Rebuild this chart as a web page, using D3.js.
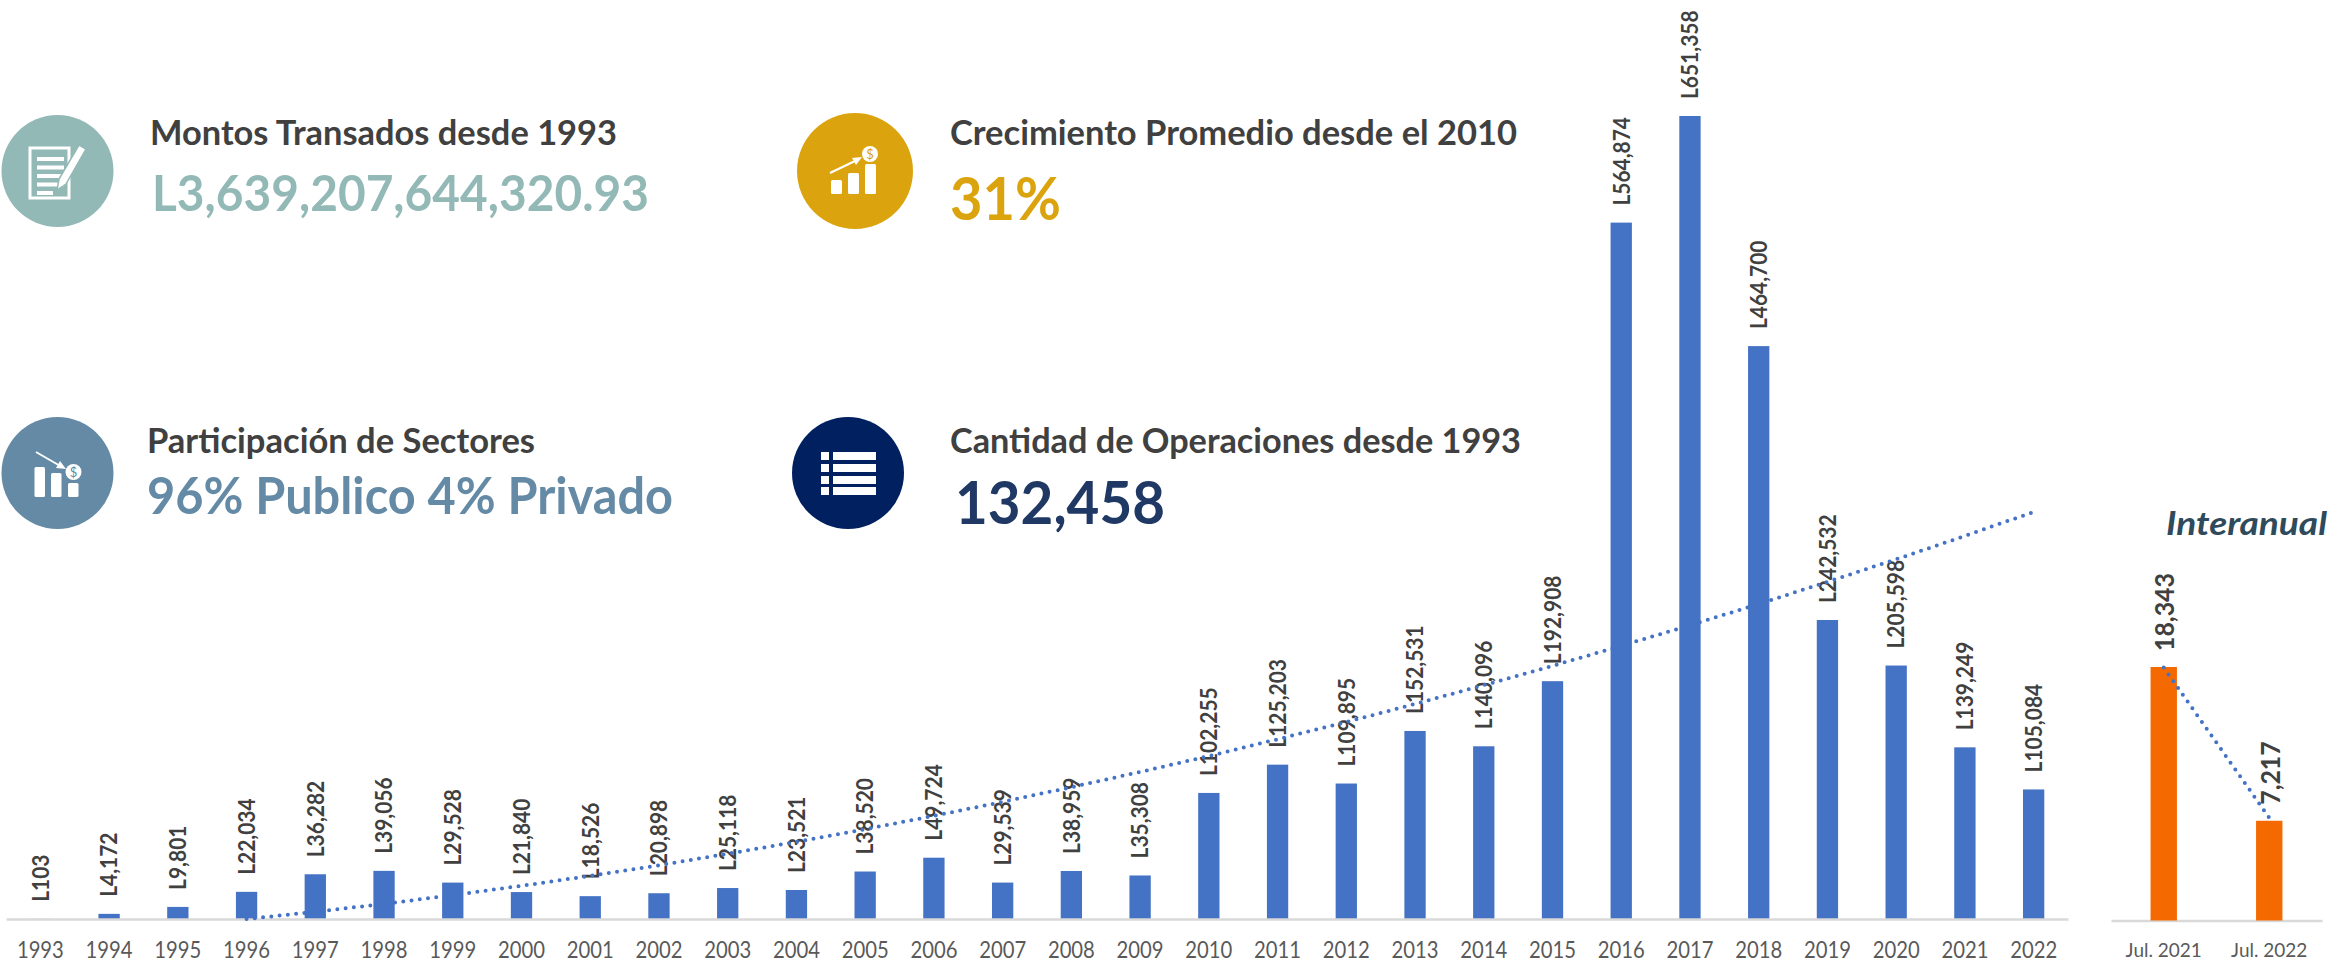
<!DOCTYPE html>
<html>
<head>
<meta charset="utf-8">
<script src="https://cdn.jsdelivr.net/npm/d3@7"></script>
<style>
  body { margin: 0; background: #fff; overflow: hidden; }
  text { font-family: Lato, "Open Sans", sans-serif; }
</style>
</head>
<body>
<div id="chart"></div>
<script>
// yearly amounts, millions of lempiras
const years = ['1993', '1994', '1995', '1996', '1997', '1998', '1999', '2000', '2001', '2002',
  '2003', '2004', '2005', '2006', '2007', '2008', '2009', '2010', '2011', '2012',
  '2013', '2014', '2015', '2016', '2017', '2018', '2019', '2020', '2021', '2022']
const amounts = [103, 4172, 9801, 22034, 36282, 39056, 29528, 21840, 18526, 20898,
  25118, 23521, 38520, 49724, 29539, 38959, 35308, 102255, 125203, 109895,
  152531, 140096, 192908, 564874, 651358, 464700, 242532, 205598, 139249, 105084]
// dotted trend, it only starts in 1996
const trend = [null, null, null, 0, 5800, 12300, 19300, 26900, 35000, 43600,
  52900, 62600, 72800, 83700, 95000, 106900, 119300, 132200, 145800, 159800,
  174400, 189700, 205300, 221600, 238300, 255500, 273500, 291800, 310700, 330200]

const months = ['Jul. 2021', 'Jul. 2022']
const monthAmounts = [18343, 7217]
const monthTrend = [18300, 7430]

const cards = [
  { title: 'Montos Transados desde 1993', value: 'L3,639,207,644,320.93', color: '#93b9b6', valueColor: '#93b9b6' },
  { title: 'Crecimiento Promedio desde el 2010', value: '31%', color: '#dba40e', valueColor: '#dba40e' },
  { title: 'Participación de Sectores', value: '96% Publico 4% Privado', color: '#648aa6', valueColor: '#648aa6' },
  { title: 'Cantidad de Operaciones desde 1993', value: '132,458', color: '#002060', valueColor: '#1f3864' }
]
// layout of each card, same order as cards
const cardLayout = [
  { cx: 57.5, cy: 171, r: 56, tx: 150, tw: 467, ty: 145, vx: 152, vw: 497, vy: 211, vs: 50 },
  { cx: 855, cy: 171, r: 58, tx: 950, tw: 567, ty: 145, vx: 950, vw: 111, vy: 220, vs: 59 },
  { cx: 57.5, cy: 473, r: 56, tx: 147, tw: 388, ty: 453, vx: 147, vw: 526, vy: 514, vs: 51 },
  { cx: 848, cy: 473, r: 56, tx: 950, tw: 571, ty: 453, vx: 955, vw: 210, vy: 524, vs: 60 }
]

const width = 2331
const height = 963
const baseline = 919
const baseline2 = 920.5

const svg = d3.select('#chart')
  .append('svg')
  .attr('width', width)
  .attr('height', height)

const xPositionScale = d3.scaleBand()
  .domain(years)
  .range([6, 2068])
  .paddingInner(0.69)
  .paddingOuter(0.345)

const yPositionScale = d3.scaleLinear()
  .domain([0, 651358])
  .range([baseline, 116])

const xPositionScale2 = d3.scaleBand()
  .domain(months)
  .range([2111, 2322])
  .paddingInner(0.75)
  .paddingOuter(0.375)

const yPositionScale2 = d3.scaleLinear()
  .domain([0, 18343])
  .range([baseline2, 667])

const fmt = d3.format(',')

// Lato is wider than the original face, squeeze it by k
function squeeze (selection, k) {
  selection
    .attr('lengthAdjust', 'spacingAndGlyphs')
    .each(function () {
      d3.select(this).attr('textLength', this.getComputedTextLength() * k)
    })
}

/* cards */
const card = svg.selectAll('.card')
  .data(cards)
  .enter()
  .append('g')
  .attr('class', 'card')

card.append('circle')
  .attr('cx', (d, i) => cardLayout[i].cx)
  .attr('cy', (d, i) => cardLayout[i].cy)
  .attr('r', (d, i) => cardLayout[i].r)
  .attr('fill', d => d.color)

card.append('text')
  .attr('x', (d, i) => cardLayout[i].tx)
  .attr('y', (d, i) => cardLayout[i].ty)
  .attr('textLength', (d, i) => cardLayout[i].tw)
  .attr('lengthAdjust', 'spacingAndGlyphs')
  .attr('font-size', 34)
  .attr('font-weight', 700)
  .attr('fill', '#404040')
  .text(d => d.title)

card.append('text')
  .attr('x', (d, i) => cardLayout[i].vx)
  .attr('y', (d, i) => cardLayout[i].vy)
  .attr('textLength', (d, i) => cardLayout[i].vw)
  .attr('lengthAdjust', 'spacingAndGlyphs')
  .attr('font-size', (d, i) => cardLayout[i].vs)
  .attr('font-weight', 700)
  .attr('fill', d => d.valueColor)
  .text(d => d.value)

/* icons */
const icons = svg.append('g').attr('fill', '#fff')

// document and pen
icons.append('rect').attr('x', 30).attr('y', 148).attr('width', 39).attr('height', 50)
  .attr('fill', 'none').attr('stroke', '#fff').attr('stroke-width', 3)
icons.selectAll('.docline')
  .data([183, 158, 168, 178, 187])
  .enter()
  .append('rect')
  .attr('class', 'docline')
  .attr('x', 37)
  .attr('y', (d, i) => 157 + i * 8.5)
  .attr('width', (d, i) => i === 4 ? 16 : 27)
  .attr('height', 4)
icons.append('path')
  .attr('d', 'M57 190 L59 179 L79 145 L86 149 L66 184 Z')
  .attr('stroke', '#93b9b6')
  .attr('stroke-width', 1.5)

// bars going down
icons.selectAll('.downbar')
  .data([[34.5, 467], [51, 473], [68, 483]])
  .enter()
  .append('rect')
  .attr('x', d => d[0])
  .attr('y', d => d[1])
  .attr('width', 10.5)
  .attr('height', d => 497 - d[1])
  .attr('rx', 1.5)
icons.append('path').attr('d', 'M36 452 L62 467').attr('stroke', '#fff').attr('stroke-width', 2)
icons.append('path').attr('d', 'M66 469 L56 468 L60 461 Z')
icons.append('circle').attr('cx', 73.5).attr('cy', 472).attr('r', 8)
icons.append('text').attr('x', 73.5).attr('y', 477).attr('text-anchor', 'middle')
  .attr('font-size', 13).attr('fill', '#648aa6').text('$')

// bars going up
icons.selectAll('.upbar')
  .data([[831, 180], [848, 173], [865, 164]])
  .enter()
  .append('rect')
  .attr('x', d => d[0])
  .attr('y', d => d[1])
  .attr('width', 11)
  .attr('height', d => 194 - d[1])
  .attr('rx', 1.5)
icons.append('path').attr('d', 'M830 173 L857 160').attr('stroke', '#fff').attr('stroke-width', 2)
icons.append('path').attr('d', 'M862 157 L856 165 L852 158 Z')
icons.append('circle').attr('cx', 870).attr('cy', 154).attr('r', 8)
icons.append('text').attr('x', 870).attr('y', 159).attr('text-anchor', 'middle')
  .attr('font-size', 13).attr('fill', '#dba40e').text('$')

// list
icons.selectAll('.listrow')
  .data([452, 464, 476, 487])
  .enter()
  .append('g')
  .attr('class', 'listrow')
  .each(function (d) {
    d3.select(this).append('rect').attr('x', 821).attr('y', d).attr('width', 8).attr('height', 8)
    d3.select(this).append('rect').attr('x', 833).attr('y', d).attr('width', 43).attr('height', 8)
  })

/* main bars */
svg.selectAll('.bar')
  .data(amounts)
  .enter()
  .append('rect')
  .attr('class', 'bar')
  .attr('x', (d, i) => xPositionScale(years[i]))
  .attr('y', d => yPositionScale(d))
  .attr('width', xPositionScale.bandwidth())
  .attr('height', d => baseline - yPositionScale(d))
  .attr('fill', '#4472c4')

/* Set up axes */
const xAxis = d3.axisBottom(xPositionScale).tickSize(0).tickPadding(23)
const axisMain = svg.append('g')
  .attr('class', 'axis x-axis')
  .attr('transform', 'translate(0,' + baseline + ')')
  .call(xAxis)

const xAxis2 = d3.axisBottom(xPositionScale2).tickSize(0).tickPadding(22)
const axisSide = svg.append('g')
  .attr('class', 'axis x-axis-2')
  .attr('transform', 'translate(0,' + baseline2 + ')')
  .call(xAxis2)

svg.selectAll('.axis path').attr('stroke', '#d9d9d9').attr('stroke-width', 2.5)
axisMain.selectAll('text').attr('font-size', 22.5).attr('fill', '#595959').attr('font-family', 'Lato').call(squeeze, 0.9)
axisSide.selectAll('text').attr('font-size', 20).attr('fill', '#595959').attr('font-family', 'Lato').call(squeeze, 0.95)

/* value labels */
svg.selectAll('.label')
  .data(amounts)
  .enter()
  .append('text')
  .attr('class', 'label')
  .attr('transform', (d, i) => {
    const x = xPositionScale(years[i]) + xPositionScale.bandwidth() / 2
    return 'translate(' + x + ',' + (yPositionScale(d) - 17) + ') rotate(-90)'
  })
  .attr('dy', '0.36em')
  .attr('font-size', 23)
  .attr('font-weight', 700)
  .attr('fill', '#404040')
  .text(d => 'L' + fmt(d))
  .call(squeeze, 0.91)

/* side chart */
svg.selectAll('.bar2')
  .data(monthAmounts)
  .enter()
  .append('rect')
  .attr('class', 'bar2')
  .attr('x', (d, i) => xPositionScale2(months[i]))
  .attr('y', d => yPositionScale2(d))
  .attr('width', xPositionScale2.bandwidth())
  .attr('height', d => baseline2 - yPositionScale2(d))
  .attr('fill', '#f46a00')

svg.selectAll('.label2')
  .data(monthAmounts)
  .enter()
  .append('text')
  .attr('class', 'label2')
  .attr('transform', (d, i) => {
    const x = xPositionScale2(months[i]) + xPositionScale2.bandwidth() / 2 + 1
    return 'translate(' + x + ',' + (yPositionScale2(d) - 16) + ') rotate(-90)'
  })
  .attr('dy', '0.36em')
  .attr('font-size', 27)
  .attr('font-weight', 700)
  .attr('fill', '#404040')
  .text(d => fmt(d))
  .call(squeeze, 0.92)

svg.append('text')
  .attr('x', 2166)
  .attr('y', 535)
  .attr('textLength', 161)
  .attr('lengthAdjust', 'spacingAndGlyphs')
  .attr('font-size', 33)
  .attr('font-weight', 700)
  .attr('font-style', 'italic')
  .attr('fill', '#2e4a5b')
  .text('Interanual')

/* dotted trends */
const trendLine = d3.line()
  .defined(d => d !== null)
  .x((d, i) => xPositionScale(years[i]) + xPositionScale.bandwidth() / 2)
  .y(d => yPositionScale(d))

svg.append('path')
  .datum(trend)
  .attr('d', trendLine)
  .attr('fill', 'none')
  .attr('stroke', '#4472c4')
  .attr('stroke-width', 4)
  .attr('stroke-linecap', 'round')
  .attr('stroke-dasharray', '0 8.3')

const trendLine2 = d3.line()
  .x((d, i) => xPositionScale2(months[i]) + xPositionScale2.bandwidth() / 2)
  .y(d => yPositionScale2(d))

svg.append('path')
  .datum(monthTrend)
  .attr('d', trendLine2)
  .attr('fill', 'none')
  .attr('stroke', '#4472c4')
  .attr('stroke-width', 4)
  .attr('stroke-linecap', 'round')
  .attr('stroke-dasharray', '0 8.3')
</script>
</body>
</html>
